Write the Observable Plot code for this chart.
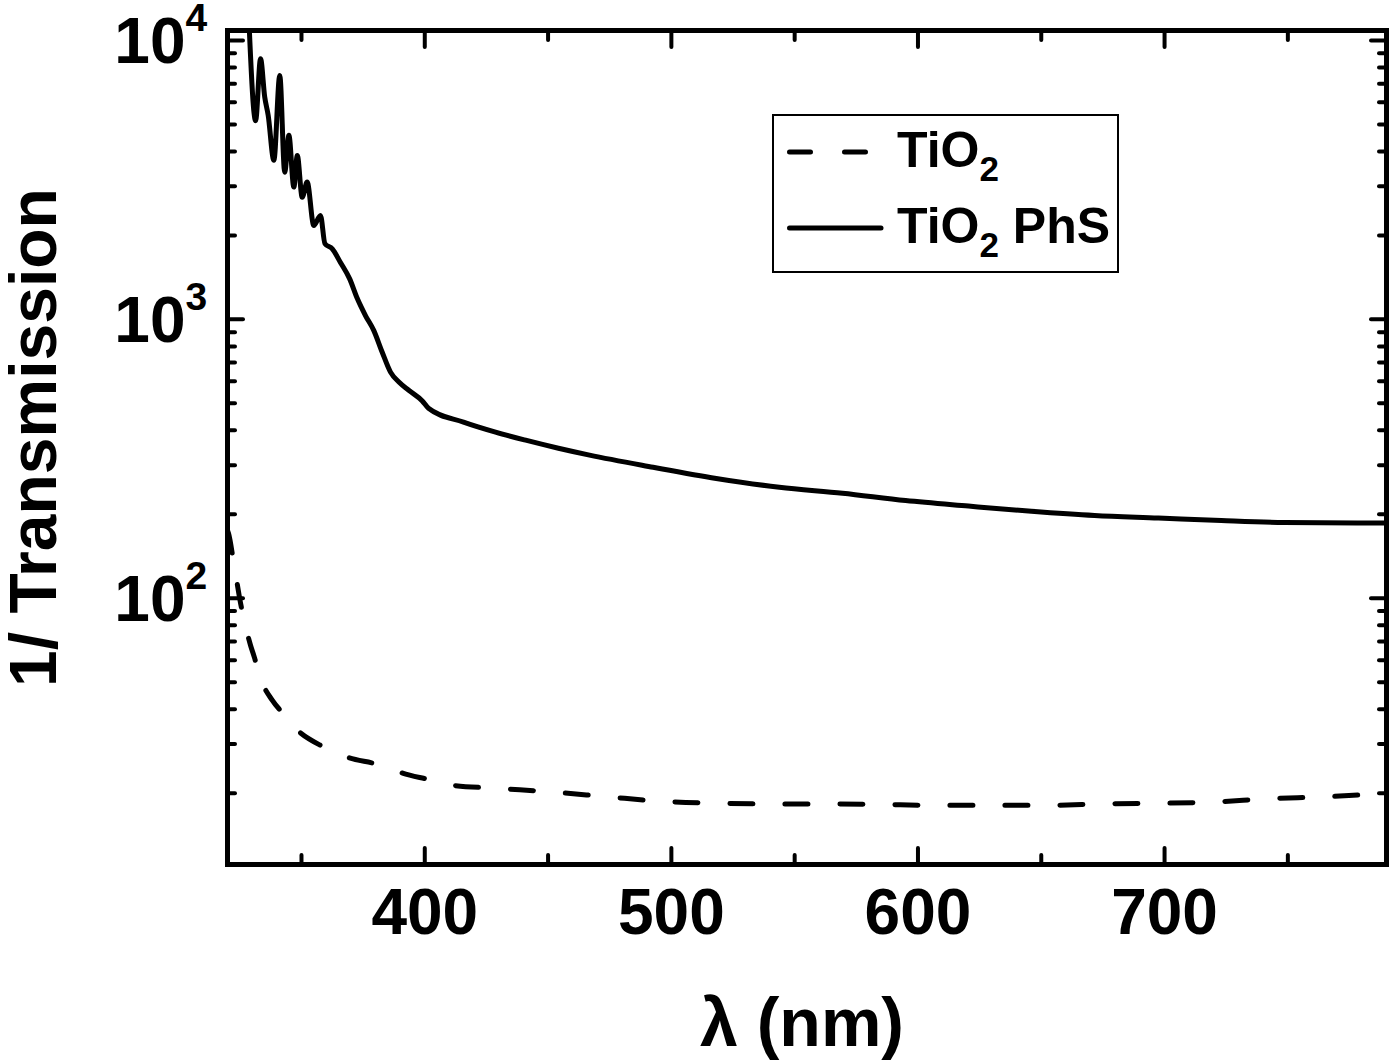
<!DOCTYPE html>
<html>
<head>
<meta charset="utf-8">
<script src="https://cdn.jsdelivr.net/npm/d3@7"></script>
<script src="https://cdn.jsdelivr.net/npm/@observablehq/plot@0.6"></script>
<style>
html, body { margin: 0; padding: 0; background: #fff; }
#chart svg { display: block; }
</style>
</head>
<body>
<div id="chart"></div>
<script>
// ---- data ----
// TiO2 PhS (solid line): wavelength (nm) and 1/Transmission
const phsWavelength = [328.5, 328.9, 331.4, 333.4, 335.1, 336.5, 338.8, 341.2, 343.2, 344.9, 346.9, 348.3, 350.3, 352.3, 355.0, 357.7, 359.5, 362.5, 365.8, 369.5, 372.6, 376.0, 379.3, 382.7, 386.1, 389.5, 393.5, 399.0, 401.5, 415.7, 428.7, 441.3, 454.2, 466.8, 492.6, 518.2, 543.8, 569.4, 595.0, 620.5, 646.0, 671.6, 697.5, 723.0, 748.6, 786.9, 790.0];
const phsInverseT   = [13000, 10710, 5160, 8600, 6260, 5390, 3720, 7490, 3370, 4570, 2980, 3870, 2740, 3110, 2170, 2360, 1870, 1790, 1600, 1400, 1190, 1030, 913, 764, 647, 596, 557, 510, 480, 428, 394, 368, 345, 326, 295, 269, 250, 238, 224, 214, 205, 198, 194, 190, 187, 186, 186];

// TiO2 (dashed line)
const tio2Wavelength = [320.0, 320.4, 322.6, 325.3, 329.3, 331.0, 332.6, 338.2, 342.2, 346.4, 357.7, 363.0, 368.7, 380.0, 385.3, 391.0, 402.3, 406.4, 410.4, 430.0, 451.6, 474.5, 496.4, 519.5, 541.0, 564.0, 586.0, 607.7, 630.6, 652.5, 675.6, 697.4, 720.3, 742.0, 764.0, 784.3, 790.0];
const tio2InverseT   = [175, 171, 133, 96, 68, 61, 54, 43, 38.9, 35, 29.7, 28.3, 26.9, 25.5, 24.7, 23.6, 22.3, 21.8, 21.4, 20.8, 20.2, 19.4, 18.7, 18.4, 18.3, 18.3, 18.2, 18.1, 18.1, 18.1, 18.3, 18.4, 18.6, 19.1, 19.4, 19.8, 19.9];

// axes
const xDomain = [320, 790];
const yDomain = [11.1, 10860];
const xMajorTicks = [400, 500, 600, 700];
const xMinorTicks = [350, 450, 550, 650, 750];
const yMajorTicks = [100, 1000, 10000];
const yMinorTicks = [20, 30, 40, 50, 60, 70, 80, 90, 200, 300, 400, 500, 600, 700, 800, 900, 2000, 3000, 4000, 5000, 6000, 7000, 8000, 9000];
const xTitle = "λ (nm)";
const yTitle = "1/ Transmission";

// legend
const legendBase = ["TiO", "TiO"];
const legendSub = ["2", "2"];
const legendRest = ["", " PhS"];
const legendDash = ["23,32", null];

// ---- build ----
const W = 1390, H = 1060;
const font = '"Liberation Sans", Arial, Helvetica, sans-serif';

const phs = phsWavelength.map((x, i) => ({x, y: phsInverseT[i]}));
const tio2 = tio2Wavelength.map((x, i) => ({x, y: tio2InverseT[i]}));

const tk = {stroke: "black", strokeWidth: 4, strokeLinecap: "round", tickFormat: () => "", label: null};

const plot = Plot.plot({
  width: W,
  height: H,
  marginLeft: 227,
  marginRight: 4,
  marginTop: 30,
  marginBottom: 196,
  x: {domain: xDomain},
  y: {type: "log", domain: yDomain},
  style: {background: "white", color: "black", fontFamily: font, overflow: "visible"},
  marks: [
    Plot.line(tio2, {x: "x", y: "y", stroke: "black", strokeWidth: 5, strokeDasharray: legendDash[0], strokeLinecap: "round", curve: "monotone-x", clip: true}),
    Plot.line(phs, {x: "x", y: "y", stroke: "black", strokeWidth: 5, strokeLinejoin: "round", curve: "monotone-x", clip: true}),
    Plot.axisX(xMajorTicks, {anchor: "bottom", tickSize: -16, ...tk}),
    Plot.axisX(xMinorTicks, {anchor: "bottom", tickSize: -9, ...tk}),
    Plot.axisX(xMajorTicks, {anchor: "top", tickSize: -16, ...tk}),
    Plot.axisX(xMinorTicks, {anchor: "top", tickSize: -9, ...tk}),
    Plot.axisY(yMajorTicks, {anchor: "left", tickSize: -16, ...tk}),
    Plot.axisY(yMinorTicks, {anchor: "left", tickSize: -8, ...tk}),
    Plot.axisY(yMajorTicks, {anchor: "right", tickSize: -16, ...tk}),
    Plot.axisY(yMinorTicks, {anchor: "right", tickSize: -8, ...tk}),
    Plot.frame({stroke: "black", strokeWidth: 5}),
    Plot.text(xMajorTicks, {x: d => d, frameAnchor: "bottom", textAnchor: "middle", lineAnchor: "bottom", dy: 69, text: d => String(d), fontSize: 64, fontWeight: "bold", fill: "black"}),
    Plot.text(yMajorTicks, {y: d => d, frameAnchor: "left", textAnchor: "end", lineAnchor: "bottom", dx: -42, dy: 23, text: () => "10", fontSize: 64, fontWeight: "bold", fill: "black"}),
    Plot.text(yMajorTicks, {y: d => d, frameAnchor: "left", textAnchor: "start", lineAnchor: "bottom", dx: -42, dy: -9, text: d => String(Math.round(Math.log10(d))), fontSize: 39, fontWeight: "bold", fill: "black"}),
    Plot.text([xTitle], {frameAnchor: "bottom", textAnchor: "middle", lineAnchor: "bottom", dx: -5, dy: 181, text: d => d, fontSize: 68, fontWeight: "bold", fill: "black"}),
    Plot.text([yTitle], {frameAnchor: "left", textAnchor: "middle", rotate: -90, lineAnchor: "bottom", dx: -172, dy: -10, text: d => d, fontSize: 66, fontWeight: "bold", fill: "black"})
  ]
});

// legend box
const svg = d3.select(plot);
const lg = svg.append("g").attr("font-family", font).attr("font-weight", "bold")
  .attr("text-anchor", "start").style("white-space", "pre");
lg.append("rect").attr("x", 773).attr("y", 115).attr("width", 345).attr("height", 157)
  .attr("fill", "white").attr("stroke", "black").attr("stroke-width", 2);
const rowY = [152, 228];
legendBase.forEach((base, i) => {
  const y = rowY[i];
  const ln = lg.append("line").attr("x1", 789.5).attr("x2", i === 0 ? 865.5 : 881)
    .attr("y1", y).attr("y2", y).attr("stroke", "black").attr("stroke-width", 5).attr("stroke-linecap", "round");
  if (legendDash[i]) ln.attr("stroke-dasharray", "21,34");
  const t = lg.append("text").attr("x", 897).attr("y", y + 15).attr("font-size", 50)
    .attr("text-anchor", "start").attr("fill", "black").text(base);
  t.append("tspan").attr("font-size", 35).attr("dy", 14).text(legendSub[i]);
  if (legendRest[i]) t.append("tspan").attr("font-size", 50).attr("dy", -14).text(legendRest[i]);
});

document.getElementById("chart").appendChild(plot);
</script>
</body>
</html>
